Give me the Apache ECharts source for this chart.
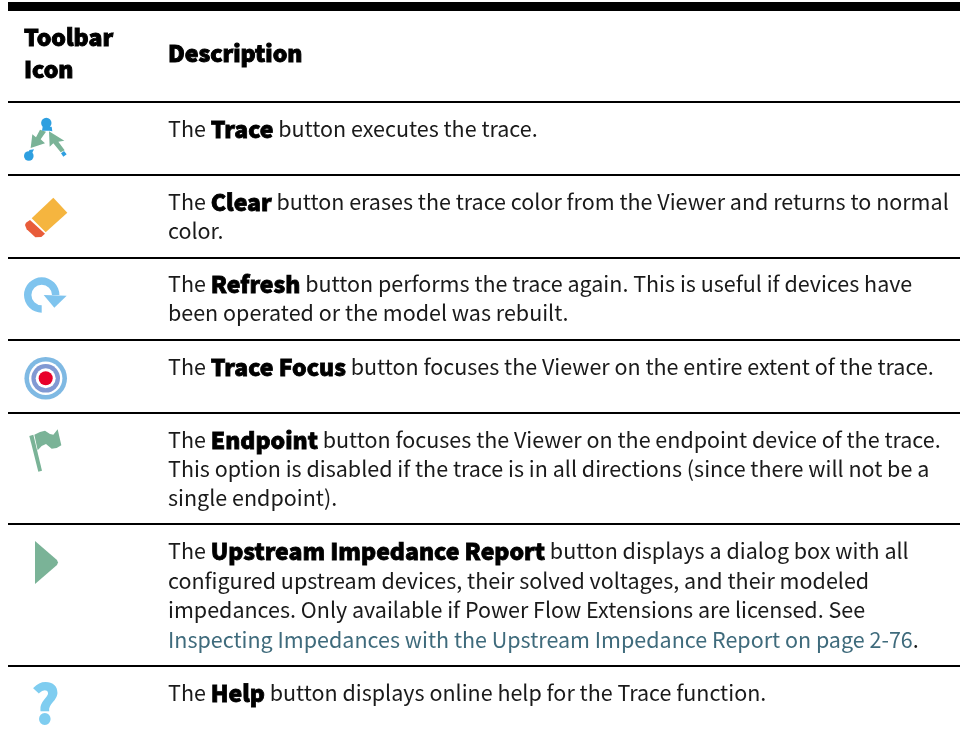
<!DOCTYPE html>
<html><head><meta charset="utf-8">
<script src="https://cdn.jsdelivr.net/npm/echarts@6/dist/echarts.min.js"></script>
<style>html,body{margin:0;padding:0;background:#fff}#c{width:960px;height:738px}</style></head>
<body><div id="c"></div>
<script>
const headerIcon = ['Toolbar', 'Icon'];
const headerDesc = 'Description';
const rows = [
  ['The {b|Trace} button executes the trace.'],
  ['The {b|Clear} button erases the trace color from the Viewer and returns to normal', 'color.'],
  ['The {b|Refresh} button performs the trace again. This is useful if devices have', 'been operated or the model was rebuilt.'],
  ['The {b|Trace Focus} button focuses the Viewer on the entire extent of the trace.'],
  ['The {b|Endpoint} button focuses the Viewer on the endpoint device of the trace.', 'This option is disabled if the trace is in all directions (since there will not be a', 'single endpoint).'],
  ['The {b|Upstream Impedance Report} button displays a dialog box with all', 'configured upstream devices, their solved voltages, and their modeled', 'impedances. Only available if Power Flow Extensions are licensed. See', '{l|Inspecting Impedances with the Upstream Impedance Report on page 2-76}.'],
  ['The {b|Help} button displays online help for the Trace function.']
];
const lineY = [[129],[202,231],[284,313],[367],[440,469,498],[551,581,610,640],[693]];
const ruleY = [102,175,258,340,413,524,666];
const FONT = '"Noto Sans CJK SC","Noto Sans",sans-serif';
const g = [];
g.push({type:'rect',shape:{x:8,y:2,width:952,height:9},style:{fill:'#000'}});
ruleY.forEach(y=>g.push({type:'rect',shape:{x:8,y:y-1,width:952,height:2},style:{fill:'#000'}}));
const head=(t,x,y)=>g.push({type:'text',x,y,style:{text:t,fontFamily:FONT,fontWeight:900,fontSize:23,fill:'#000',stroke:'#000',lineWidth:1,align:'left',verticalAlign:'middle'}});
head(headerIcon[0],24,37);head(headerIcon[1],24,69);head(headerDesc,168,53);
rows.forEach((r,i)=>r.forEach((t,j)=>g.push({type:'text',x:168,y:lineY[i][j],style:{
  text:t,fontFamily:FONT,fontSize:21.5,fontWeight:400,fill:'#1a1a1a',align:'left',verticalAlign:'middle',
  rich:{b:{fontFamily:FONT,fontWeight:900,fontSize:23,fill:'#000',stroke:'#000',lineWidth:0.8},l:{fontFamily:FONT,fontSize:21.5,fill:'#3f6b7c'}}
}})));
const P=(ox,oy,pts)=>pts.map(p=>[ox+p[0]/3,oy+p[1]/3]);
const poly=(ox,oy,pts,fill)=>g.push({type:'polygon',shape:{points:P(ox,oy,pts)},style:{fill}});
const circ=(cx,cy,r,fill)=>g.push({type:'circle',shape:{cx,cy,r},style:{fill}});
const GREEN='#7ab397',BLUE='#2e9fe0';
// trace
circ(46.3,123,5.2,BLUE);circ(28.8,156,4.8,BLUE);
poly(0,90,[[97,133],[92,174],[135,160],[122,148],[138,125],[120,119],[108,142]],GREEN);
poly(0,90,[[147,124],[193,152],[175,155],[194,181],[182,187],[160,160],[149,170]],GREEN);
poly(0,90,[[183,190],[192,183],[200,193],[190,200]],BLUE);
poly(0,90,[[88,180],[102,178],[96,190],[86,190]],BLUE);
poly(0,90,[[128,110],[155,110],[157,124],[148,122],[138,122],[126,122]],BLUE);
// eraser
poly(0,90,[[160,323],[202,368],[137,427],[95,385]],'#f5b53f');
poly(0,90,[[90,390],[135,431],[124,441],[106,442],[80,418],[75,405],[78,398]],'#e85c3a');
// refresh
g.push({type:'sector',shape:{cx:41.7,cy:295,r:17.7,r0:10.3,startAngle:Math.PI/2,endAngle:Math.PI*2,clockwise:true},style:{fill:'#7fc4ee'}});
poly(0,90,[[131,615],[200,617],[163,653]],'#7fc4ee');
// target
circ(45.7,378.3,21.3,'#7fb9e3');circ(45.7,378.3,16.7,'#fff');circ(45.7,378.3,14.3,'#8199d3');circ(45.7,378.3,10,'#fff');circ(45.7,378.3,7,'#e8002a');
// flag
poly(0,340,[[88,288],[100,284],[126,392],[115,395]],GREEN);
poly(0,340,[[103,284],[120,276],[135,272],[150,282],[160,284],[173,268],[184,316],[170,324],[155,326],[138,312],[125,318],[113,331]],GREEN);
// play
g.push({type:'polygon',shape:{points:[[35,541],[57,560],[58,562.5],[57,565],[35,584]]},style:{fill:GREEN}});
// help
g.push({type:'text',x:45.5,y:703,style:{text:'?',fontFamily:FONT,fontWeight:700,fontSize:52,fill:'#7fcdf0',stroke:'#7fcdf0',lineWidth:2,align:'center',verticalAlign:'middle'}});
const chart=echarts.init(document.getElementById('c'),null,{renderer:'canvas'});
chart.setOption({animation:false,backgroundColor:'#fff',graphic:{elements:g}});
</script></body></html>
